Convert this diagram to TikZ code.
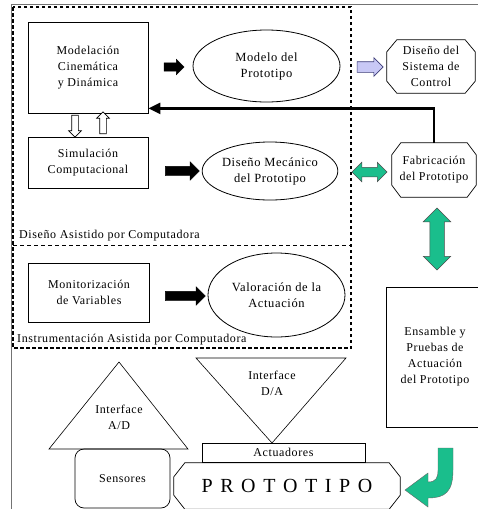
\documentclass[tikz,border=0pt]{standalone}
\usepackage{fontspec}
\setmainfont{Liberation Serif}[LetterSpace=5]
\newfontfamily\protofont{Liberation Serif}[LetterSpace=13]
\usetikzlibrary{shapes.geometric,shapes.arrows,arrows.meta}
\definecolor{tealgreen}{RGB}{26,190,140}
\definecolor{lavender}{RGB}{200,200,245}
\definecolor{lavline}{RGB}{60,60,120}
\newcommand{\octoline}[3]{%
  \draw[line width=0.7pt] ([xshift=#2]#1.north west) -- ([xshift=-#2]#1.north east)
    -- ([yshift=-#3]#1.north east) -- ([yshift=#3]#1.south east)
    -- ([xshift=-#2]#1.south east) -- ([xshift=#2]#1.south west)
    -- ([yshift=#3]#1.south west) -- ([yshift=-#3]#1.north west) -- cycle;}
\begin{document}
\begin{tikzpicture}[x=1pt,y=-1pt,
  font=\fontsize{12}{16}\selectfont,
  rectbox/.style={draw, line width=0.8pt, align=center, inner sep=2pt},
  ellbox/.style={draw, ellipse, line width=0.8pt, align=center, inner sep=0pt,
     font=\fontsize{12.5}{16}\selectfont},
  octbox/.style={rectangle, align=center, inner sep=0pt},
  blackarrow/.style={single arrow, draw=black, fill=black, inner sep=4.5pt,
     single arrow head extend=4.5pt},
  hollowarrow/.style={single arrow, draw=black, fill=white, line width=0.7pt, inner sep=3pt,
     single arrow head extend=3pt},
  greendouble/.style={double arrow, draw=black!70, fill=tealgreen, line width=0.5pt},
  dashbox/.style={line width=1.3pt, dash pattern=on 3.5pt off 2.5pt},
  label/.style={anchor=west, inner sep=0pt}
]
\clip (0,0) rectangle (478,509);
\fill[white] (0,0) rectangle (478,509);
% outer frame
\draw[black!55, line width=0.8pt] (11,509) -- (11,4) -- (478,4);
% dashed boxes
\draw[dashbox] (13,7) rectangle (351,348);
\draw[line width=0.8pt, dash pattern=on 4pt off 3pt] (13,245) -- (351,245);
\node[label] (lab1) at (19,236) {Diseño Asistido por Computadora};
\node[label] (lab2) at (17,340) {Instrumentación Asistida por Computadora};

% left column boxes
\node[rectbox, minimum width=120pt, minimum height=91pt] (mod) at (88,67.5) {Modelación\\Cinemática\\y Dinámica};
\node[rectbox, minimum width=120pt, minimum height=51pt] (sim) at (88,162.5) {Simulación\\Computacional};
\node[rectbox, minimum width=121pt, minimum height=59pt] (mon) at (89,292.5) {Monitorización\\de Variables};

% ellipses
\node[ellbox, minimum width=147pt, minimum height=72pt] (modelo) at (266.5,66) {Modelo del\\Prototipo};
\node[ellbox, minimum width=130pt, minimum height=58pt] (mec) at (270,171) {Diseño Mecánico\\del Prototipo};
\node[ellbox, minimum width=137pt, minimum height=84pt] (val) at (276.5,295) {Valoración de la\\Actuación};

% block arrows
\node[blackarrow, inner sep=4pt, single arrow head extend=3.5pt, minimum height=20pt] (a1) at (172,67) {};
\node[blackarrow, minimum height=34pt] (a2) at (180,171) {};
\node[blackarrow, minimum height=40pt] (a3) at (183,296) {};
\node[hollowarrow, minimum height=22pt, shape border rotate=270] (h1) at (75,124.5) {};
\node[hollowarrow, minimum height=22pt, shape border rotate=90] (h2) at (103,124.5) {};

% right column
\node[single arrow, draw=lavline, fill=lavender, line width=0.6pt, inner sep=5pt,
      minimum height=26pt, single arrow head extend=4pt] (lav) at (367.5,67) {};
\node[octbox, minimum width=88pt, minimum height=53pt] (ctrl) at (431,66.5) {Diseño del\\Sistema de\\Control};
\octoline{ctrl}{10pt}{12pt}
\node[octbox, minimum width=84pt, minimum height=54pt] (fab) at (434,170) {Fabricación\\del Prototipo};
\octoline{fab}{9pt}{12pt}
\node[greendouble, inner sep=4.5pt, double arrow head extend=5pt, minimum height=35pt] (g1) at (369.5,172) {};
\node[greendouble, inner sep=7pt, double arrow head extend=6.5pt, minimum height=62pt, shape border rotate=90] (g2) at (437,239) {};
\node[rectbox, minimum width=98pt, minimum height=140pt] (ens) at (435,357) {Ensamble y\\Pruebas de\\Actuación\\del Prototipo};

% feedback arrow
\draw[line width=2.5pt, -{Triangle[length=12pt, width=11pt]}] (fab.north) |- ([yshift=5pt]mod.south east);

% triangles
\coordinate (adtop) at (119,362);
\coordinate (adr) at (188,449);
\coordinate (adl) at (49,449);
\draw[line width=0.6pt] (adtop) -- (adr) -- (adl) -- cycle;
\node[align=center, inner sep=0pt] (adtext) at (119,417) {Interface\\A/D};
\coordinate (dal) at (196,358);
\coordinate (dar) at (346,358);
\coordinate (dabot) at (272,443);
\draw[line width=0.6pt] (dal) -- (dar) -- (dabot) -- cycle;
\node[align=center, inner sep=0pt] (datext) at (272,383) {Interface\\D/A};

% bottom
\node[rectbox, minimum width=163pt, minimum height=19pt, inner sep=0pt] (act) at (283.5,452.5) {Actuadores};
\node[draw, line width=0.7pt, rounded corners=9pt, minimum width=95pt, minimum height=59pt] (sen) at (122.5,478.5) {Sensores};
\node[octbox, minimum width=226pt, minimum height=46pt,
      font=\protofont\fontsize{20}{24}\selectfont] (proto) at (287,486) {P R O T O T I P O};
\octoline{proto}{11pt}{14pt}

% green J arrow
\fill[tealgreen, draw=black!60, line width=0.4pt]
  (438,448) -- (453,448) -- (453,470) .. controls (453,492) and (445,498) .. (428,498)
  -- (428,507) -- (405,490) -- (428,473) -- (428,482)
  .. controls (436,482) and (438,478) .. (438,470) -- cycle;
\end{tikzpicture}
\end{document}
